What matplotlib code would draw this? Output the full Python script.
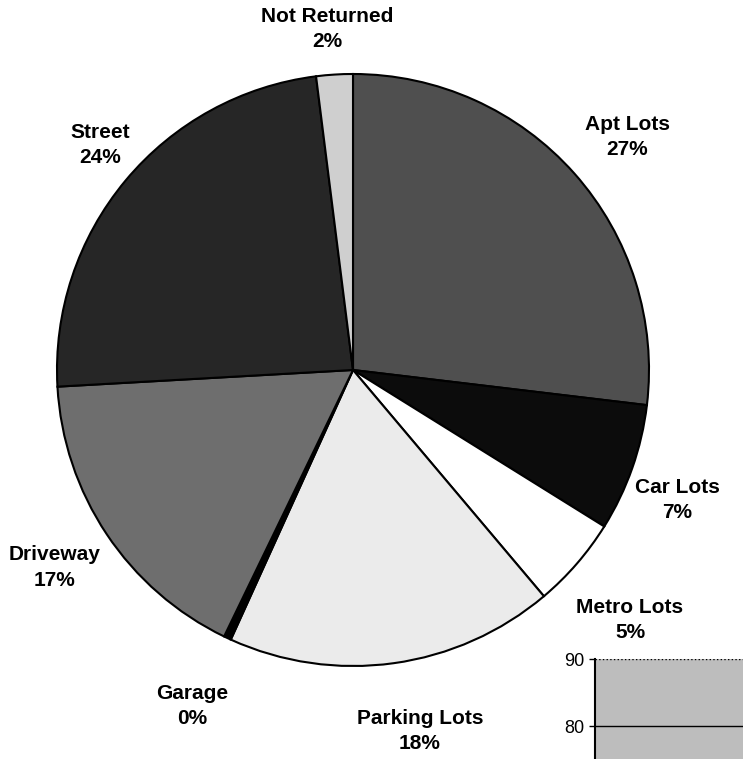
import numpy as np
import matplotlib.pyplot as plt

# slices, clockwise from 12 o'clock
labels = ["Apt Lots", "Car Lots", "Metro Lots", "Parking Lots", "Garage",
          "Driveway", "Street", "Not Returned"]
shares = [27, 7, 5, 18, 0.4, 17, 24, 2]
pct_text = ["27%", "7%", "5%", "18%", "0%", "17%", "24%", "2%"]
colors = ["#4f4f4f", "#0c0c0c", "#ffffff", "#ebebeb", "#000000",
          "#6e6e6e", "#262626", "#cfcfcf"]

# fragment of the next chart in the corner
frag_ticks = [80, 90]

W, H = 743, 759
fig = plt.figure(figsize=(W / 100, H / 100), dpi=100)
plt.rcParams['font.family'] = ['Liberation Sans', 'DejaVu Sans']

cx, cy, r = 353, 370, 296
ax = fig.add_axes([(cx - r) / W, 1 - (cy + r) / H, 2 * r / W, 2 * r / H])
wedges, texts = ax.pie(shares, colors=colors, startangle=90, counterclock=False,
                       wedgeprops=dict(edgecolor="black", linewidth=1.5))
ax.set_xlim(-1, 1)
ax.set_ylim(-1, 1)
ax.set_aspect("equal")

# label spots, like the hand-placed excel labels (radius units)
label_pos = [(0.926, 0.787), (1.095, -0.439), (0.936, -0.845), (0.226, -1.220),
             (-0.544, -1.135), (-1.007, -0.666), (-0.855, 0.760), (-0.088, 1.152)]
for name, p, (lx, ly) in zip(labels, pct_text, label_pos):
    ax.text(lx, ly, name + "\n" + p, ha="center", va="center", fontsize=15,
            fontweight="bold", linespacing=1.45, clip_on=False)

# partial axes at bottom right
ax2 = fig.add_axes([595 / W, 0, 0.4, 100 / H])
ax2.set_facecolor("#bdbdbd")
ax2.set_ylim(90 - 100 / 6.7, 90)
ax2.set_yticks(frag_ticks)
ax2.set_xticks([])
ax2.axhline(80, color="black", lw=1)
ax2.axhline(90, color="black", lw=1, ls=":")
for s in ["top", "right", "bottom"]:
    ax2.spines[s].set_visible(False)
ax2.spines["left"].set_linewidth(1.5)
ax2.tick_params(axis="y", labelsize=13, length=4, width=1)

fig.savefig("out.png", dpi=100)
